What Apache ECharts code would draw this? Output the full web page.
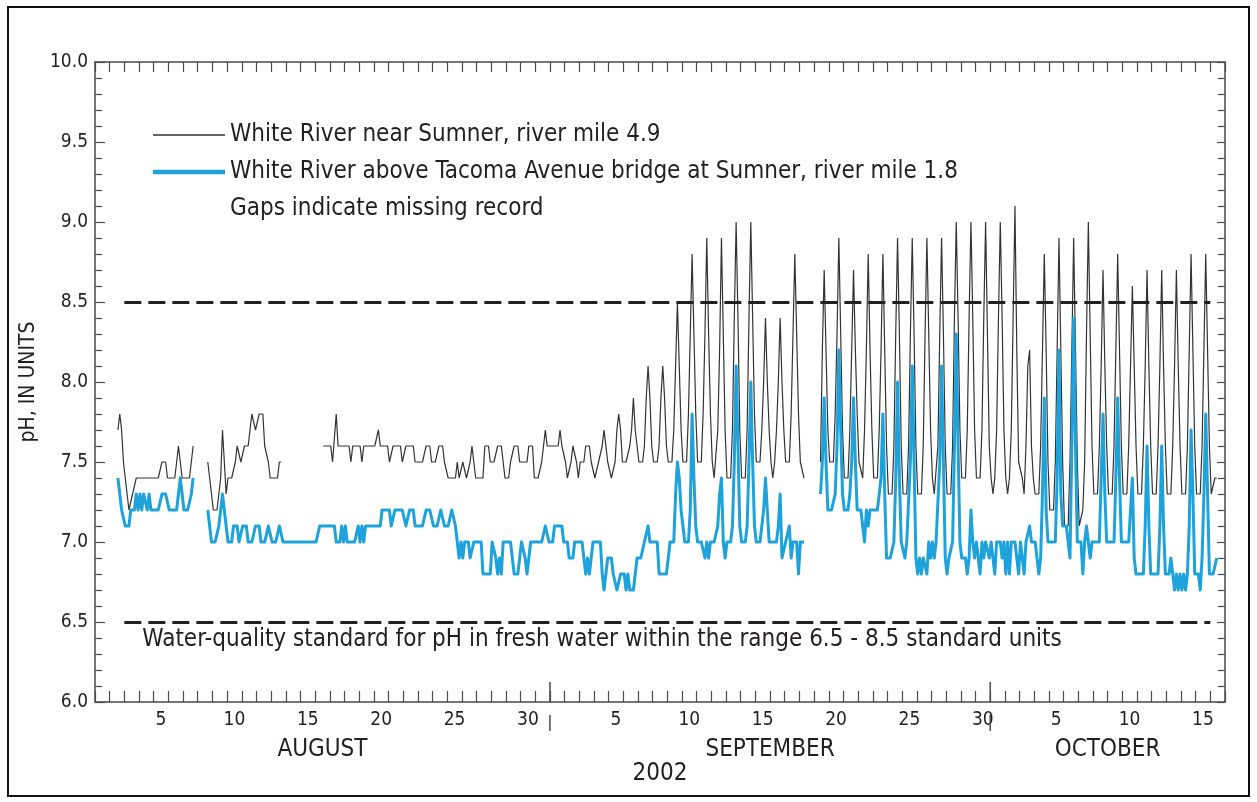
<!DOCTYPE html>
<html>
<head>
<meta charset="utf-8">
<script src="https://cdn.jsdelivr.net/npm/echarts@6/dist/echarts.min.js"></script>
<style>
  html, body { margin: 0; padding: 0; background: #fff; }
  #chart { width: 1257px; height: 802px; }
</style>
</head>
<body>
<div id="chart"></div>
<script>
// pH record, White River, August 1 - October 16, 2002.
// Each row is one day: eight readings taken every 3 hours (01:30, 04:30 ... 22:30).
// null marks missing record.
const readingsPerDay = 8;
const year = '2002';
const monthNames = ['AUGUST', 'SEPTEMBER', 'OCTOBER'];
const monthShort = ['Aug', 'Sep', 'Oct'];
const monthDays = [31, 30, 16];
const labelledDays = [5, 10, 15, 20, 25, 30];
const standardRange = [6.5, 8.5];
const standardSpan = [2, 76];   // days from Aug 1 covered by the standard lines

const nearSumnerName = 'White River near Sumner, river mile 4.9';
const tacomaBridgeName = 'White River above Tacoma Avenue bridge at Sumner, river mile 1.8';
const gapsNote = 'Gaps indicate missing record';
const standardNote = 'Water-quality standard for pH in fresh water within the range 6.5 - 8.5 standard units';

// White River near Sumner, river mile 4.9
const rm49Aug = [
  [null, null, null, null, null, null, null, null],
  [null, null, null, null, 7.7, 7.8, 7.7, 7.5],
  [7.4, 7.3, 7.2, 7.2, 7.3, 7.3, 7.4, 7.4],
  [7.4, 7.4, 7.4, 7.4, 7.4, 7.4, 7.4, 7.4],
  [7.4, 7.4, 7.4, 7.4, 7.5, 7.5, 7.5, 7.4],
  [7.4, 7.4, 7.4, 7.4, 7.4, 7.6, 7.6, 7.4],
  [7.4, 7.4, 7.4, 7.4, 7.4, 7.6, null, null],
  [null, null, null, null, null, 7.5, 7.4, 7.3],
  [7.2, 7.2, 7.2, 7.2, 7.4, 7.7, 7.5, 7.3],
  [7.4, 7.4, 7.4, 7.4, 7.5, 7.6, 7.6, 7.5],
  [7.5, 7.6, 7.6, 7.6, 7.7, 7.8, 7.8, 7.7],
  [7.7, 7.8, 7.8, 7.8, 7.6, 7.6, 7.5, 7.4],
  [7.4, 7.4, 7.4, 7.4, 7.5, 7.5, null, null],
  [null, null, null, null, null, null, null, null],
  [null, null, null, null, null, null, null, null],
  [null, null, null, null, 7.6, 7.6, 7.6, 7.6],
  [7.6, 7.5, 7.5, 7.8, 7.6, 7.6, 7.6, 7.6],
  [7.6, 7.6, 7.6, 7.5, 7.6, 7.6, 7.6, 7.6],
  [7.6, 7.5, 7.6, 7.6, 7.6, 7.6, 7.6, 7.6],
  [7.6, 7.6, 7.7, 7.6, 7.6, 7.6, 7.6, 7.6],
  [7.5, 7.5, 7.6, 7.6, 7.6, 7.6, 7.6, 7.5],
  [7.5, 7.6, 7.6, 7.6, 7.6, 7.6, 7.5, 7.5],
  [7.5, 7.5, 7.5, 7.5, 7.6, 7.6, 7.6, 7.5],
  [7.5, 7.5, 7.5, 7.6, 7.6, 7.6, 7.5, 7.5],
  [7.4, 7.4, 7.4, 7.4, 7.4, 7.5, 7.4, 7.4],
  [7.5, 7.5, 7.4, 7.4, 7.5, 7.6, 7.5, 7.4],
  [7.4, 7.4, 7.4, 7.4, 7.6, 7.6, 7.6, 7.5],
  [7.5, 7.5, 7.5, 7.6, 7.6, 7.6, 7.6, 7.4],
  [7.4, 7.4, 7.5, 7.5, 7.6, 7.6, 7.6, 7.5],
  [7.5, 7.5, 7.5, 7.5, 7.6, 7.6, 7.6, 7.4],
  [7.4, 7.4, 7.4, 7.5, 7.5, 7.7, 7.6, 7.6]
];
const rm49Sep = [
  [7.6, 7.6, 7.6, 7.6, 7.6, 7.7, 7.6, 7.6],
  [7.5, 7.4, 7.4, 7.5, 7.6, 7.6, 7.5, 7.4],
  [7.5, 7.5, 7.5, 7.6, 7.6, 7.6, 7.5, 7.5],
  [7.4, 7.4, 7.5, 7.5, 7.6, 7.7, 7.6, 7.5],
  [7.5, 7.4, 7.4, 7.5, 7.7, 7.8, 7.7, 7.5],
  [7.5, 7.5, 7.5, 7.6, 7.7, 7.9, 7.7, 7.6],
  [7.5, 7.5, 7.5, 7.6, 7.9, 8.1, 7.9, 7.6],
  [7.5, 7.5, 7.5, 7.6, 7.9, 8.1, 7.9, 7.6],
  [7.5, 7.5, 7.5, 7.7, 8.1, 8.5, 8.1, 7.7],
  [7.5, 7.5, 7.5, 7.8, 8.3, 8.8, 8.3, 7.8],
  [7.5, 7.5, 7.5, 7.8, 8.3, 8.9, 8.3, 7.8],
  [7.5, 7.4, 7.4, 7.7, 8.2, 8.9, 8.3, 7.7],
  [7.4, 7.4, 7.4, 7.7, 8.4, 9.0, 8.4, 7.7],
  [7.4, 7.4, 7.4, 7.7, 8.4, 9.0, 8.4, 7.8],
  [7.5, 7.5, 7.5, 7.7, 8.0, 8.4, 8.0, 7.7],
  [7.5, 7.4, 7.5, 7.7, 8.0, 8.4, 8.0, 7.7],
  [7.5, 7.5, 7.5, 7.8, 8.3, 8.8, 8.3, 7.8],
  [7.5, 7.5, 7.4, null, null, null, null, null],
  [null, null, null, 7.5, 8.2, 8.7, 8.2, 7.7],
  [7.5, 7.5, 7.5, 7.8, 8.3, 8.9, 8.3, 7.7],
  [7.4, 7.4, 7.4, 7.7, 8.2, 8.7, 8.2, 7.8],
  [7.5, 7.5, 7.4, 7.7, 8.2, 8.8, 8.2, 7.7],
  [7.4, 7.4, 7.4, 7.7, 8.2, 8.8, 8.2, 7.6],
  [7.3, 7.3, 7.3, 7.6, 8.3, 8.9, 8.3, 7.6],
  [7.3, 7.3, 7.3, 7.6, 8.3, 8.9, 8.3, 7.6],
  [7.3, 7.3, 7.3, 7.6, 8.3, 8.9, 8.3, 7.7],
  [7.4, 7.3, 7.3, 7.6, 8.3, 8.9, 8.3, 7.6],
  [7.3, 7.3, 7.3, 7.6, 8.4, 9.0, 8.4, 7.7],
  [7.4, 7.4, 7.4, 7.7, 8.4, 9.0, 8.4, 7.7],
  [7.4, 7.4, 7.4, 7.7, 8.4, 9.0, 8.3, 7.6]
];
const rm49Oct = [
  [7.4, 7.3, 7.4, 7.7, 8.4, 9.0, 8.4, 7.7],
  [7.4, 7.3, 7.4, 7.7, 8.4, 9.1, 8.2, 7.5],
  [7.5, 7.4, 7.3, 7.6, 8.1, 8.2, 7.6, 7.4],
  [7.3, 7.3, 7.3, 7.6, 8.2, 8.8, 8.2, 7.5],
  [7.2, 7.2, 7.2, 7.5, 8.2, 8.9, 8.2, 7.5],
  [7.1, 7.1, 7.1, 7.5, 8.2, 8.9, 8.2, 7.5],
  [7.1, 7.1, 7.2, 7.5, 8.3, 9.0, 8.3, 7.6],
  [7.3, 7.3, 7.3, 7.6, 8.1, 8.7, 8.1, 7.6],
  [7.3, 7.3, 7.3, 7.6, 8.2, 8.8, 8.2, 7.6],
  [7.3, 7.3, 7.3, 7.6, 8.1, 8.6, 8.1, 7.6],
  [7.3, 7.3, 7.3, 7.6, 8.1, 8.7, 8.1, 7.6],
  [7.3, 7.3, 7.3, 7.6, 8.1, 8.7, 8.1, 7.6],
  [7.3, 7.3, 7.3, 7.6, 8.1, 8.7, 8.1, 7.6],
  [7.3, 7.3, 7.3, 7.6, 8.2, 8.8, 8.2, 7.6],
  [7.3, 7.3, 7.3, 7.6, 8.2, 8.8, 8.2, 7.6],
  [7.3, 7.3, 7.4, 7.4, null, null, null, null]
];

// White River above Tacoma Avenue bridge at Sumner, river mile 1.8
const rm18Aug = [
  [null, null, null, null, null, null, null, null],
  [null, null, null, null, 7.4, 7.3, 7.2, 7.2],
  [7.1, 7.1, 7.1, 7.2, 7.2, 7.2, 7.3, 7.2],
  [7.3, 7.2, 7.3, 7.3, 7.2, 7.3, 7.2, 7.2],
  [7.2, 7.2, 7.2, 7.2, 7.3, 7.3, 7.3, 7.3],
  [7.2, 7.2, 7.2, 7.2, 7.2, 7.3, 7.4, 7.4],
  [7.2, 7.2, 7.2, 7.2, 7.3, 7.4, null, null],
  [null, null, null, null, null, 7.2, 7.1, 7.0],
  [7.0, 7.0, 7.0, 7.1, 7.2, 7.3, 7.2, 7.1],
  [7.0, 7.0, 7.0, 7.1, 7.1, 7.1, 7.0, 7.0],
  [7.1, 7.1, 7.1, 7.0, 7.0, 7.0, 7.0, 7.1],
  [7.1, 7.1, 7.0, 7.0, 7.0, 7.0, 7.1, 7.1],
  [7.0, 7.0, 7.0, 7.0, 7.1, 7.1, 7.0, 7.0],
  [7.0, 7.0, 7.0, 7.0, 7.0, 7.0, 7.0, 7.0],
  [7.0, 7.0, 7.0, 7.0, 7.0, 7.0, 7.0, 7.0],
  [7.0, 7.0, 7.1, 7.1, 7.1, 7.1, 7.1, 7.1],
  [7.1, 7.1, 7.1, 7.0, 7.0, 7.0, 7.1, 7.0],
  [7.1, 7.0, 7.0, 7.0, 7.0, 7.0, 7.0, 7.1],
  [7.0, 7.1, 7.0, 7.1, 7.1, 7.1, 7.1, 7.1],
  [7.1, 7.1, 7.1, 7.1, 7.2, 7.2, 7.2, 7.2],
  [7.2, 7.1, 7.1, 7.2, 7.2, 7.2, 7.2, 7.2],
  [7.2, 7.1, 7.1, 7.2, 7.2, 7.2, 7.1, 7.1],
  [7.1, 7.1, 7.1, 7.1, 7.2, 7.2, 7.2, 7.2],
  [7.1, 7.1, 7.1, 7.1, 7.2, 7.2, 7.1, 7.1],
  [7.1, 7.1, 7.2, 7.2, 7.1, 7.1, 6.9, 7.0],
  [6.9, 7.0, 7.0, 7.0, 6.9, 6.9, 7.0, 7.0],
  [7.0, 7.0, 7.0, 6.8, 6.8, 6.8, 6.8, 6.8],
  [7.0, 7.0, 6.9, 6.8, 6.9, 6.8, 7.0, 7.0],
  [7.0, 7.0, 7.0, 7.0, 6.8, 6.8, 6.8, 6.8],
  [7.0, 7.0, 6.9, 6.8, 6.9, 7.0, 7.0, 7.0],
  [7.0, 7.0, 7.0, 7.0, 7.0, 7.1, 7.1, 7.0]
];
const rm18Sep = [
  [7.0, 7.0, 7.1, 7.1, 7.1, 7.1, 7.1, 7.0],
  [7.0, 7.0, 6.9, 6.9, 6.9, 7.0, 7.0, 7.0],
  [7.0, 7.0, 6.9, 6.8, 6.9, 6.8, 6.9, 7.0],
  [7.0, 7.0, 7.0, 7.0, 6.8, 6.7, 6.8, 6.9],
  [6.9, 6.9, 6.8, 6.8, 6.7, 6.7, 6.8, 6.8],
  [6.8, 6.7, 6.8, 6.7, 6.7, 6.7, 6.7, 6.9],
  [6.9, 6.9, 6.9, 7.0, 7.0, 7.1, 7.0, 7.0],
  [7.0, 7.0, 7.0, 6.8, 6.8, 6.8, 6.8, 6.8],
  [6.9, 7.0, 7.0, 7.0, 7.3, 7.5, 7.4, 7.2],
  [7.1, 7.0, 7.0, 7.0, 7.2, 7.8, 7.4, 7.1],
  [7.0, 7.0, 7.0, 7.0, 6.9, 7.0, 6.9, 7.0],
  [7.0, 7.0, 7.0, 7.1, 7.3, 7.4, 7.0, 6.9],
  [7.0, 7.0, 7.0, 7.1, 7.5, 8.1, 7.6, 7.1],
  [7.0, 7.0, 7.0, 7.1, 7.5, 8.0, 7.5, 7.1],
  [7.0, 7.0, 7.0, 7.0, 7.2, 7.4, 7.2, 7.0],
  [7.0, 7.0, 7.0, 7.0, 7.1, 7.3, 6.9, 6.9],
  [7.0, 7.0, 7.1, 6.9, 7.0, 7.0, 7.0, 6.8],
  [7.0, 7.0, 7.0, null, null, null, null, null],
  [null, null, null, 7.3, 7.5, 7.9, 7.5, 7.2],
  [7.2, 7.2, 7.2, 7.3, 7.6, 8.2, 7.7, 7.3],
  [7.2, 7.2, 7.2, 7.3, 7.5, 7.9, 7.5, 7.2],
  [7.2, 7.2, 7.2, 7.0, 7.2, 7.1, 7.2, 7.2],
  [7.2, 7.2, 7.2, 7.3, 7.4, 7.8, 7.3, 6.9],
  [6.9, 6.9, 6.9, 7.0, 7.4, 8.0, 7.4, 7.0],
  [7.0, 6.9, 7.0, 7.0, 7.5, 8.1, 7.5, 6.9],
  [6.8, 6.9, 6.8, 6.9, 6.9, 6.8, 7.0, 6.9],
  [7.0, 6.9, 7.0, 7.0, 7.5, 8.1, 7.5, 6.9],
  [6.8, 6.9, 6.9, 7.0, 7.6, 8.3, 7.6, 7.0],
  [6.9, 6.9, 6.9, 6.8, 6.9, 7.2, 7.0, 6.9],
  [7.0, 6.9, 6.8, 7.0, 6.9, 7.0, 7.0, 6.9]
];
const rm18Oct = [
  [7.0, 7.0, 6.8, 7.0, 7.0, 7.0, 6.9, 7.0],
  [6.8, 7.0, 6.8, 7.0, 7.0, 7.0, 6.9, 6.8],
  [7.0, 7.0, 6.8, 7.0, 7.0, 7.1, 7.0, 7.0],
  [7.0, 7.0, 6.8, 6.9, 7.3, 7.9, 7.2, 7.0],
  [7.0, 7.0, 7.0, 7.0, 7.4, 8.2, 7.3, 7.1],
  [7.1, 7.1, 7.1, 6.9, 7.6, 8.4, 7.6, 7.0],
  [7.0, 7.0, 6.8, 7.0, 7.1, 7.1, 6.9, 7.0],
  [7.0, 7.0, 7.0, 7.0, 7.4, 7.8, 7.3, 7.0],
  [7.0, 7.0, 7.0, 7.0, 7.4, 7.9, 7.4, 7.0],
  [7.0, 7.0, 7.0, 7.0, 7.2, 7.4, 6.9, 6.8],
  [6.8, 6.8, 6.8, 6.8, 7.1, 7.6, 7.1, 6.8],
  [6.8, 6.8, 6.8, 6.8, 7.1, 7.6, 7.1, 6.8],
  [6.8, 6.8, 6.9, 6.8, 6.7, 6.8, 6.7, 6.8],
  [6.7, 6.8, 6.7, 6.8, 7.1, 7.7, 7.3, 6.8],
  [6.8, 6.8, 6.7, 6.9, 7.3, 7.8, 7.3, 6.8],
  [6.8, 6.8, 6.8, 6.9, null, null, null, null]
];

const FONT = "'Liberation Sans Narrow', 'DejaVu Sans Condensed', 'Arial Narrow', sans-serif";
const INK = '#231f20';
const AXIS = '#4a4a4a';
const BLACK_LINE = '#333';
const BLUE = '#1ea2dc';

// readings -> [days since Aug 1 00:00, pH]
function toPoints(months) {
  const pts = [];
  let day = 0;
  months.forEach(function (rows) {
    rows.forEach(function (row) {
      row.forEach(function (v, k) {
        pts.push([day + (k + 0.5) / readingsPerDay, v == null ? '-' : v]);
      });
      day++;
    });
  });
  return pts;
}

// day categories and month boundaries
const dayCats = [];
const monthStarts = [];
let totalDays = 0;
monthDays.forEach(function (n, m) {
  monthStarts.push(totalDays);
  for (let d = 1; d <= n; d++) dayCats.push(monthShort[m] + ' ' + d);
  totalDays += n;
});
const monthBoundaries = monthStarts.slice(1);
const monthCentres = monthStarts.map(function (s, m) { return [s + monthDays[m] / 2, 6]; });

const chart = echarts.init(document.getElementById('chart'), null, { renderer: 'canvas' });

const textBase = { fontFamily: FONT, color: INK };

chart.setOption({
  animation: false,
  backgroundColor: '#fff',
  grid: { left: 95, right: 32, top: 62, bottom: 100, containLabel: false, outerBoundsMode: 'none' },
  graphic: [{
    type: 'rect', silent: true, z: -1,
    shape: { x: 8, y: 7, width: 1241, height: 789 },
    style: { fill: 'none', stroke: '#111', lineWidth: 2 }
  }],
  legend: {
    left: 148, top: 116, orient: 'vertical',
    itemWidth: 72, itemHeight: 28, itemGap: 9,
    symbolKeepAspect: true,
    selectedMode: false,
    textStyle: { fontFamily: FONT, fontSize: 24, color: INK, lineHeight: 28 },
    data: [
      { name: nearSumnerName, icon: 'path://M0 0H72V1.3H0Z', itemStyle: { color: BLACK_LINE } },
      { name: tacomaBridgeName, icon: 'path://M0 0H72V4.5H0Z', itemStyle: { color: BLUE } },
      { name: gapsNote, icon: 'none' }
    ]
  },
  xAxis: [
    {
      type: 'value', min: 0, max: totalDays, position: 'bottom',
      axisLine: { show: true, onZero: false, lineStyle: { color: AXIS, width: 1.5 } },
      axisTick: { show: false }, axisLabel: { show: false }, splitLine: { show: false },
      name: year, nameLocation: 'middle', nameGap: 60,
      nameTextStyle: Object.assign({ fontSize: 24 }, textBase)
    },
    {
      type: 'category', data: dayCats, position: 'bottom', boundaryGap: true,
      axisLine: { show: false, onZero: false },
      axisTick: { show: true, inside: true, interval: 0, length: 11, lineStyle: { color: AXIS, width: 1.2 } },
      axisLabel: Object.assign({
        interval: 0, margin: 9, fontSize: 19,
        formatter: function (v) {
          const d = +v.split(' ')[1];
          return labelledDays.indexOf(d) >= 0 ? String(d) : '';
        }
      }, textBase),
      splitLine: { show: false }
    },
    {
      type: 'category', data: dayCats, position: 'top', boundaryGap: true,
      axisLine: { show: true, onZero: false, lineStyle: { color: AXIS, width: 1.5 } },
      axisTick: { show: true, inside: true, interval: 0, length: 10, lineStyle: { color: AXIS, width: 1.2 } },
      axisLabel: { show: false }, splitLine: { show: false }
    }
  ],
  yAxis: [
    {
      type: 'value', min: 6, max: 10, interval: 0.5, position: 'left',
      axisLine: { show: true, lineStyle: { color: AXIS, width: 1.5 } },
      axisTick: { show: true, inside: true, length: 10, lineStyle: { color: AXIS, width: 1.2 } },
      minorTick: { show: true, splitNumber: 5, length: 7, lineStyle: { color: AXIS, width: 1.2 } },
      axisLabel: Object.assign({ margin: 7, fontSize: 19, formatter: function (v) { return v.toFixed(1); } }, textBase),
      splitLine: { show: false }, minorSplitLine: { show: false },
      name: 'pH, IN UNITS', nameLocation: 'middle', nameGap: 40, nameRotate: 90,
      nameTextStyle: Object.assign({ fontSize: 21 }, textBase)
    },
    {
      type: 'value', min: 6, max: 10, interval: 0.5, position: 'right',
      axisLine: { show: true, lineStyle: { color: AXIS, width: 1.5 } },
      axisTick: { show: true, inside: true, length: 8, lineStyle: { color: AXIS, width: 1.2 } },
      minorTick: { show: true, splitNumber: 5, length: 7, lineStyle: { color: AXIS, width: 1.2 } },
      axisLabel: { show: false }, splitLine: { show: false }, minorSplitLine: { show: false }
    }
  ],
  series: [
    {
      name: nearSumnerName, type: 'line', xAxisIndex: 0, yAxisIndex: 0,
      data: toPoints([rm49Aug, rm49Sep, rm49Oct]),
      symbol: 'none', connectNulls: false, color: BLACK_LINE,
      lineStyle: { color: BLACK_LINE, width: 1.2 }, z: 3,
      markLine: {
        silent: true, symbol: 'none', animation: false,
        lineStyle: { color: INK, width: 3, type: [17, 7] },
        label: { show: false },
        data: [
          [{ coord: [standardSpan[0], standardRange[1]] }, { coord: [standardSpan[1], standardRange[1]] }],
          [{
            coord: [standardSpan[0], standardRange[0]],
            label: {
              show: true, position: 'insideStartBottom', formatter: standardNote,
              fontFamily: FONT, fontSize: 24, color: INK, distance: 6, padding: [0, 0, 0, 12]
            }
          }, { coord: [standardSpan[1], standardRange[0]] }]
        ]
      }
    },
    {
      name: tacomaBridgeName, type: 'line', xAxisIndex: 0, yAxisIndex: 0,
      data: toPoints([rm18Aug, rm18Sep, rm18Oct]),
      symbol: 'none', connectNulls: false, color: BLUE,
      lineStyle: { color: BLUE, width: 3, join: 'round' }, z: 4
    },
    { name: gapsNote, type: 'line', data: [], symbol: 'none', lineStyle: { width: 0 } },
    {
      // month boundary ticks on the time axis
      type: 'custom', xAxisIndex: 0, yAxisIndex: 0, clip: false, silent: true, z: 5,
      data: monthBoundaries.map(function (b) { return [b, 6]; }),
      renderItem: function (params, api) {
        const p = api.coord([api.value(0), api.value(1)]);
        const st = { stroke: AXIS, lineWidth: 1.5 };
        return {
          type: 'group', children: [
            { type: 'line', shape: { x1: p[0], y1: p[1], x2: p[0], y2: p[1] - 20 }, style: st },
            { type: 'line', shape: { x1: p[0], y1: p[1] + 13, x2: p[0], y2: p[1] + 29 }, style: st }
          ]
        };
      }
    },
    {
      // month names centred under each month
      type: 'custom', xAxisIndex: 0, yAxisIndex: 0, clip: false, silent: true,
      data: monthCentres,
      renderItem: function (params, api) {
        const p = api.coord([api.value(0), api.value(1)]);
        return {
          type: 'text', x: p[0], y: p[1] + 48,
          style: {
            text: monthNames[params.dataIndex], fontFamily: FONT, fontSize: 24,
            fill: INK, align: 'center', verticalAlign: 'middle'
          }
        };
      }
    }
  ]
});
</script>
</body>
</html>
